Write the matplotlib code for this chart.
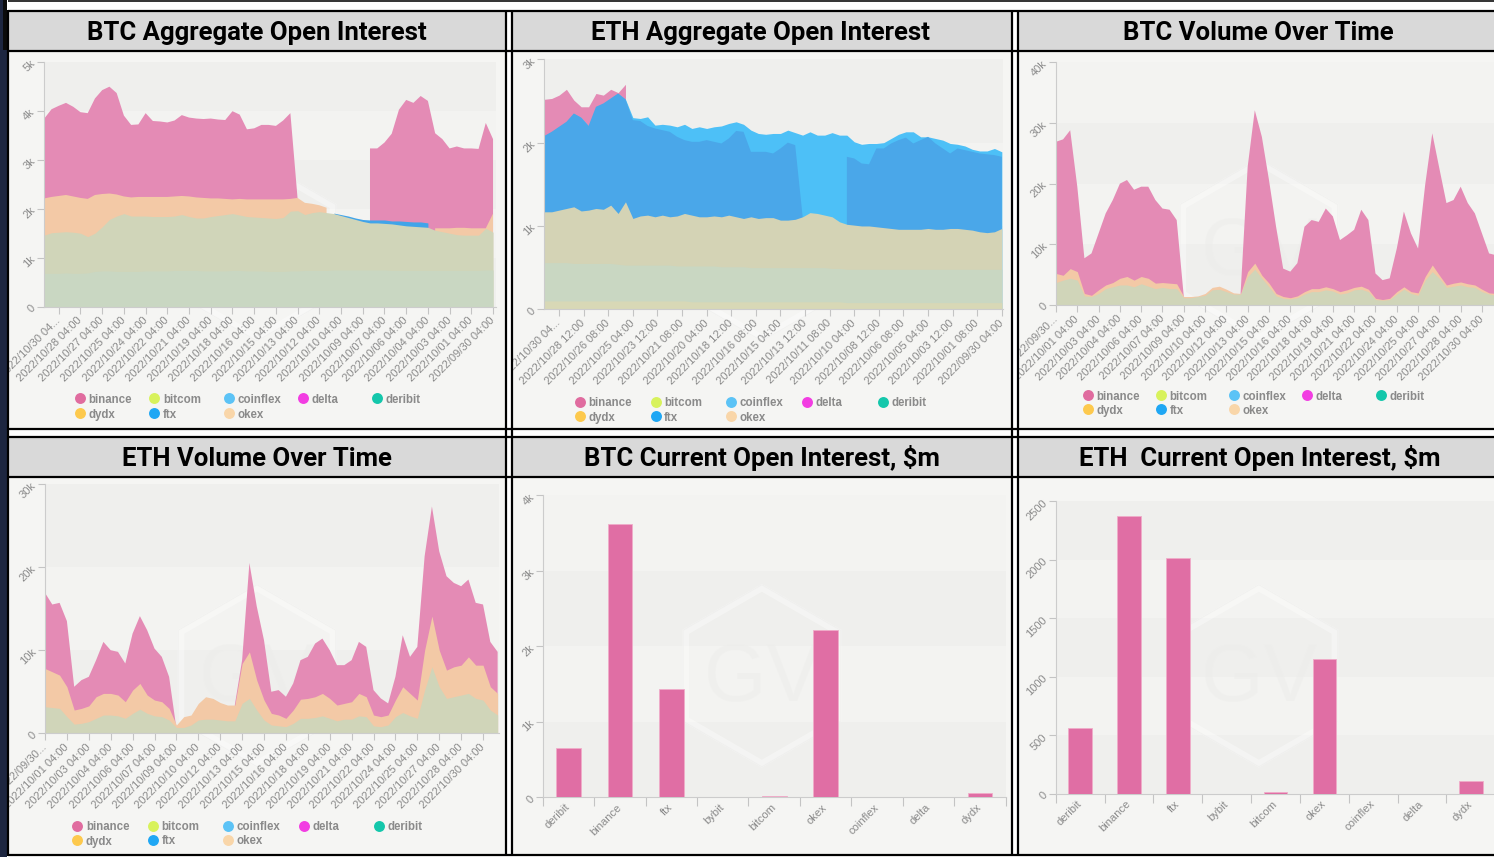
import numpy as np
import matplotlib
matplotlib.use('Agg')
import matplotlib.pyplot as plt
from matplotlib.patches import Rectangle, RegularPolygon
from matplotlib.transforms import Bbox, TransformedBbox

W, H = 1494, 857
nan = np.nan

# time axis: one point every 12 hours, 63 points
days = np.arange(63) * 0.5

# ---- BTC aggregate open interest (k), top edge of each coloured layer ----
btc_oi_binance = [3.84, 4.03, 4.10, 4.16, 4.08, 3.97, 3.95, 4.25, 4.42, 4.49,
                  4.36, 3.90, 3.71, 3.72, 3.95, 3.79, 3.78, 3.76, 3.80, 3.91,
                  3.86, 3.84, 3.83, 3.84, 3.82, 3.81, 3.99, 3.92, 3.62, 3.64,
                  3.71, 3.71, 3.69, 3.80, 3.95, 2.20, nan, nan, nan, nan,
                  nan, nan, nan, nan, nan, 3.23, 3.23, 3.35, 3.53, 4.02,
                  4.22, 4.16, 4.30, 4.20, 3.54, 3.42, 3.23, 3.27, 3.23, 3.23,
                  3.22, 3.75, 3.42]
btc_oi_okex = [2.21, 2.24, 2.26, 2.28, 2.25, 2.22, 2.20, 2.28, 2.30, 2.31,
               2.29, 2.25, 2.23, 2.24, 2.24, 2.24, 2.24, 2.24, 2.25, 2.26,
               2.25, 2.23, 2.22, 2.21, 2.21, 2.20, 2.19, 2.20, 2.19, 2.19,
               2.19, 2.19, 2.19, 2.19, 2.20, 2.22, 2.12, 2.10, 2.07, 2.02,
               nan, nan, nan, nan, nan, nan, nan, nan, nan, nan,
               nan, nan, nan, nan, 1.60, 1.60, 1.60, 1.61, 1.61, 1.60,
               1.60, 1.60, 1.90]
btc_oi_ftx = [nan, nan, nan, nan, nan, nan, nan, nan, nan, nan,
              nan, nan, nan, nan, nan, nan, nan, nan, nan, nan,
              nan, nan, nan, nan, nan, nan, nan, nan, nan, nan,
              nan, nan, nan, nan, nan, nan, nan, nan, nan, nan,
              1.91, 1.88, 1.85, 1.81, 1.78, 1.77, 1.77, 1.77, 1.75, 1.75,
              1.74, 1.73, 1.73, 1.71, nan, nan, nan, nan, nan, nan,
              nan, nan, nan]
btc_oi_deribit = [1.46, 1.51, 1.52, 1.53, 1.52, 1.50, 1.43, 1.50, 1.63, 1.78,
                  1.85, 1.90, 1.85, 1.85, 1.85, 1.84, 1.84, 1.84, 1.85, 1.88,
                  1.84, 1.81, 1.81, 1.84, 1.86, 1.88, 1.90, 1.87, 1.84, 1.83,
                  1.82, 1.81, 1.80, 1.82, 1.95, 1.96, 1.88, 1.92, 1.94, 1.92,
                  1.90, 1.86, 1.82, 1.78, 1.74, 1.71, 1.71, 1.70, 1.69, 1.67,
                  1.65, 1.64, 1.63, 1.62, 1.56, 1.53, 1.50, 1.47, 1.46, 1.46,
                  1.46, 1.60, 1.52]
btc_oi_base = [0.68, 0.68, 0.68, 0.69, 0.68, 0.68, 0.69, 0.72, 0.73, 0.73,
               0.72, 0.72, 0.72, 0.72, 0.73, 0.73, 0.73, 0.73, 0.74, 0.74,
               0.74, 0.74, 0.73, 0.73, 0.73, 0.73, 0.74, 0.74, 0.73, 0.73,
               0.73, 0.72, 0.72, 0.72, 0.73, 0.73, 0.74, 0.74, 0.74, 0.74,
               0.75, 0.75, 0.75, 0.75, 0.75, 0.75, 0.75, 0.75, 0.74, 0.74,
               0.74, 0.74, 0.74, 0.74, 0.74, 0.74, 0.74, 0.74, 0.74, 0.74,
               0.74, 0.75, 0.75]

# ---- ETH aggregate open interest (k) ----
eth_oi_binance = [2.52, 2.53, 2.57, 2.64, 2.51, 2.43, 2.43, 2.59, 2.57, 2.64,
                  2.60, 2.70, nan, nan, nan, nan, nan, nan, nan, nan,
                  nan, nan, nan, nan, nan, nan, nan, nan, nan, nan,
                  nan, nan, nan, nan, nan, nan, nan, nan, nan, nan,
                  nan, nan, nan, nan, nan, nan, nan, nan, nan, nan,
                  nan, nan, nan, nan, nan, nan, nan, nan, nan, nan,
                  nan, nan, nan]
eth_oi_coinflex = [2.08, 2.13, 2.19, 2.25, 2.35, 2.30, 2.20, 2.43, 2.47, 2.53,
                   2.59, 2.52, 2.30, 2.29, 2.31, 2.21, 2.22, 2.21, 2.19, 2.22,
                   2.17, 2.19, 2.17, 2.19, 2.20, 2.23, 2.25, 2.22, 2.15, 2.11,
                   2.10, 2.11, 2.11, 2.15, 2.12, 2.09, 2.13, 2.09, 2.09, 2.12,
                   2.09, 2.09, 2.01, 1.98, 1.99, 1.99, 2.00, 2.05, 2.10, 2.13,
                   2.13, 2.07, 2.07, 2.05, 2.03, 1.99, 1.98, 1.96, 1.92, 1.90,
                   1.90, 1.93, 1.89]
eth_oi_ftx = [2.08, 2.13, 2.19, 2.25, 2.35, 2.30, 2.20, 2.43, 2.47, 2.53,
              2.59, 2.52, 2.27, 2.26, 2.20, 2.17, 2.15, 2.13, 2.07, 2.03,
              2.01, 2.01, 2.03, 2.01, 1.99, 2.05, 2.14, 2.13, 1.89, 1.89,
              1.89, 1.87, 1.93, 2.00, 1.97, 1.12, nan, nan, nan, nan,
              nan, 1.83, 1.81, 1.75, 1.74, 1.93, 1.93, 1.99, 2.03, 2.06,
              1.99, 2.03, 2.07, 1.99, 1.93, 1.87, 1.93, 1.91, 1.89, 1.87,
              1.86, 1.85, 1.83]
eth_oi_okex = [1.17, 1.17, 1.19, 1.21, 1.23, 1.18, 1.19, 1.21, 1.20, 1.25,
               1.15, 1.29, 1.09, 1.12, 1.13, 1.11, 1.13, 1.11, 1.12, 1.15,
               1.13, 1.11, 1.11, 1.12, 1.11, 1.13, 1.11, 1.09, 1.11, 1.09,
               1.10, 1.10, 1.07, 1.07, 1.08, 1.11, 1.16, 1.15, 1.13, 1.11,
               1.05, 1.02, 1.01, 1.00, 1.00, 0.99, 0.98, 0.97, 0.96, 0.96,
               0.96, 0.96, 0.97, 0.96, 0.96, 0.97, 0.97, 0.96, 0.95, 0.93,
               0.92, 0.93, 0.97]
eth_oi_deribit = [0.56, 0.56, 0.56, 0.56, 0.55, 0.55, 0.55, 0.55, 0.55, 0.55,
                  0.54, 0.53, 0.53, 0.53, 0.53, 0.53, 0.53, 0.53, 0.52, 0.52,
                  0.52, 0.52, 0.52, 0.52, 0.51, 0.51, 0.51, 0.51, 0.50, 0.50,
                  0.50, 0.50, 0.50, 0.50, 0.50, 0.50, 0.50, 0.50, 0.50, 0.49,
                  0.49, 0.48, 0.48, 0.48, 0.48, 0.48, 0.48, 0.48, 0.48, 0.48,
                  0.48, 0.48, 0.48, 0.48, 0.48, 0.48, 0.48, 0.48, 0.48, 0.48,
                  0.48, 0.48, 0.48]
eth_oi_dydx = [0.10, 0.10, 0.10, 0.10, 0.10, 0.10, 0.10, 0.10, 0.10, 0.10,
               0.10, 0.10, 0.10, 0.10, 0.10, 0.10, 0.10, 0.10, 0.10, 0.10,
               0.09, 0.09, 0.09, 0.09, 0.09, 0.09, 0.09, 0.09, 0.09, 0.09,
               0.09, 0.09, 0.09, 0.09, 0.09, 0.09, 0.09, 0.09, 0.09, 0.09,
               0.09, 0.08, 0.08, 0.08, 0.08, 0.08, 0.08, 0.08, 0.08, 0.08,
               0.08, 0.08, 0.08, 0.08, 0.08, 0.08, 0.08, 0.08, 0.08, 0.08,
               0.08, 0.08, 0.08]

# ---- BTC volume (k) ----
btc_vol_binance = [26.9, 27.3, 28.8, 19.5, 7.7, 8.5, 11.8, 15.1, 17.3, 20.0,
                   20.6, 19.0, 19.5, 19.5, 17.3, 15.9, 15.7, 14.0, 1.4, nan,
                   nan, nan, nan, nan, nan, nan, 1.9, 22.8, 32.1, 27.7,
                   20.6, 12.9, 6.0, 5.5, 6.9, 12.9, 14.0, 13.7, 15.9, 14.6,
                   10.7, 11.5, 12.4, 15.7, 14.0, 5.2, 4.1, 4.4, 9.3, 15.4,
                   11.8, 9.3, 19.8, 28.3, 22.5, 16.8, 17.3, 19.5, 16.8, 15.1,
                   11.8, 8.5, 8.2]
btc_vol_okex = [5.2, 4.9, 6.0, 5.5, 1.9, 1.6, 2.5, 3.3, 3.7, 4.4,
                4.7, 4.1, 4.7, 4.4, 3.6, 3.7, 3.6, 3.5, 1.4, 1.4,
                1.5, 1.9, 2.9, 3.1, 2.6, 2.0, 1.9, 5.5, 6.9, 4.9,
                3.6, 1.9, 1.4, 1.2, 1.5, 2.2, 2.7, 2.7, 3.0, 2.7,
                2.2, 2.5, 2.9, 3.1, 2.6, 1.1, 0.9, 1.1, 2.2, 3.0,
                2.2, 2.0, 4.7, 6.6, 4.9, 3.3, 3.6, 3.8, 3.5, 3.3,
                2.6, 2.0, 1.9]
btc_vol_deribit = [3.7, 4.1, 4.4, 4.1, 1.5, 1.4, 1.9, 2.7, 3.0, 3.3,
                   3.3, 3.0, 3.5, 3.1, 2.7, 2.9, 2.7, 2.7, 1.2, 1.2,
                   1.4, 1.6, 2.5, 2.6, 2.2, 1.8, 1.8, 4.7, 5.9, 4.4,
                   3.0, 1.5, 1.1, 1.0, 1.2, 1.8, 2.2, 2.2, 2.5, 2.3,
                   1.8, 2.0, 2.5, 2.6, 2.2, 0.9, 0.8, 0.9, 1.8, 2.6,
                   1.9, 1.6, 4.1, 5.5, 4.4, 2.9, 3.1, 3.3, 3.0, 2.9,
                   2.2, 1.8, 1.6]

# ---- ETH volume (k) ----
eth_vol_binance = [16.9, 15.5, 15.7, 13.5, 5.6, 6.4, 6.8, 8.8, 11.0, 10.0,
                   9.8, 8.4, 12.0, 14.1, 12.4, 10.2, 9.2, 6.8, 0.6, nan,
                   nan, nan, nan, nan, nan, nan, 3.4, 8.8, 20.5, 15.3,
                   11.2, 5.0, 5.2, 4.4, 6.0, 8.8, 9.2, 10.8, 11.4, 10.0,
                   8.2, 8.2, 8.8, 11.0, 10.4, 5.2, 4.2, 3.6, 6.8, 11.8,
                   9.2, 10.4, 21.3, 27.3, 21.9, 18.9, 18.1, 17.7, 18.5, 15.7,
                   15.5, 11.0, 9.8]
eth_vol_okex = [7.8, 7.4, 7.0, 5.6, 2.8, 3.0, 3.3, 4.4, 4.8, 4.8,
                4.6, 3.8, 5.2, 6.0, 4.6, 4.0, 3.8, 3.0, 1.0, 2.0,
                2.2, 3.6, 4.4, 4.2, 3.7, 3.4, 3.4, 8.4, 9.8, 6.4,
                4.0, 2.4, 2.2, 1.8, 2.8, 4.1, 4.2, 4.4, 4.8, 4.2,
                3.4, 3.6, 3.8, 4.8, 4.4, 2.2, 2.0, 2.2, 4.0, 5.6,
                4.8, 4.0, 10.0, 14.1, 10.0, 7.6, 8.0, 8.2, 9.2, 8.2,
                8.2, 5.6, 4.8]
eth_vol_deribit = [3.2, 3.1, 3.0, 2.0, 1.1, 1.2, 1.4, 1.8, 2.2, 2.2,
                   2.1, 1.8, 2.4, 2.9, 2.4, 2.1, 2.0, 1.6, 0.7, 0.7,
                   1.0, 1.6, 1.7, 1.7, 1.6, 1.5, 1.5, 3.6, 4.2, 2.8,
                   1.6, 1.0, 0.9, 0.8, 1.2, 1.8, 1.8, 1.9, 2.1, 1.8,
                   1.5, 1.7, 1.7, 2.1, 2.0, 0.9, 0.8, 1.0, 2.0, 2.5,
                   2.1, 1.8, 5.2, 8.0, 5.6, 4.2, 4.4, 4.6, 4.8, 4.2,
                   4.0, 2.8, 2.2]

# ---- current open interest, $m ----
exchanges = ['deribit', 'binance', 'ftx', 'bybit', 'bitcom', 'okex', 'coinflex', 'delta', 'dydx']
btc_current_oi = [650, 3620, 1440, 0, 12, 2210, 0, 8, 62]
eth_current_oi = [567, 2372, 2019, 0, 14, 1150, 0, 0, 111]

# ---- tick labels ----
btc_oi_dates = ['2022/10/30 04...', '2022/10/28 04:00', '2022/10/27 04:00', '2022/10/25 04:00',
                '2022/10/24 04:00', '2022/10/22 04:00', '2022/10/21 04:00', '2022/10/19 04:00',
                '2022/10/18 04:00', '2022/10/16 04:00', '2022/10/15 04:00', '2022/10/13 04:00',
                '2022/10/12 04:00', '2022/10/10 04:00', '2022/10/09 04:00', '2022/10/07 04:00',
                '2022/10/06 04:00', '2022/10/04 04:00', '2022/10/03 04:00', '2022/10/01 04:00',
                '2022/09/30 04:00']
eth_oi_dates = ['2022/10/30 04...', '2022/10/28 12:00', '2022/10/26 08:00', '2022/10/25 04:00',
                '2022/10/23 12:00', '2022/10/21 08:00', '2022/10/20 04:00', '2022/10/18 12:00',
                '2022/10/16 08:00', '2022/10/15 04:00', '2022/10/13 12:00', '2022/10/11 08:00',
                '2022/10/10 04:00', '2022/10/08 12:00', '2022/10/06 08:00', '2022/10/05 04:00',
                '2022/10/03 12:00', '2022/10/01 08:00', '2022/09/30 04:00']
vol_dates = ['2022/09/30...', '2022/10/01 04:00', '2022/10/03 04:00', '2022/10/04 04:00',
             '2022/10/06 04:00', '2022/10/07 04:00', '2022/10/09 04:00', '2022/10/10 04:00',
             '2022/10/12 04:00', '2022/10/13 04:00', '2022/10/15 04:00', '2022/10/16 04:00',
             '2022/10/18 04:00', '2022/10/19 04:00', '2022/10/21 04:00', '2022/10/22 04:00',
             '2022/10/24 04:00', '2022/10/25 04:00', '2022/10/27 04:00', '2022/10/28 04:00',
             '2022/10/30 04:00']

legend_names = ['binance', 'bitcom', 'coinflex', 'delta', 'deribit', 'dydx', 'ftx', 'okex']
legend_colors = ['#e06c9f', '#d8f25c', '#5cc3f6', '#f23de2', '#14c7ab', '#fdc94d', '#1fa7f4', '#f9d6a9']
legend_slots = [(0, 0), (1, 0), (2, 0), (3, 0), (4, 0), (0, 1), (1, 1), (2, 1)]

PINK = '#e48bb5'
PEACH = '#f3c9a6'
SAGE = '#d0d5b9'
GREEN = '#c9d7c2'
FTX = '#41a4e9'
LIGHTBLUE = '#4dc0f7'
DARKBLUE = '#4aa7e9'
BEIGE = '#d4d3b5'
YELLOWISH = '#d8d8b6'
BAR = '#e06ea4'
TICKTXT = '#8a8a8a'

fig = plt.figure(figsize=(W / 100, H / 100), dpi=100)
fig.patch.set_facecolor('white')
bg = fig.add_axes([0, 0, 1, 1], zorder=-10)
bg.set_xlim(0, W)
bg.set_ylim(H, 0)
bg.axis('off')

cols = [(9, 505), (512.7, 1011), (1018.7, 1510)]
rows = [(11, 51, 429), (437, 476.5, 855)]
for (tt, tb, pb) in rows:
    for (x0, x1) in cols:
        bg.add_patch(Rectangle((x0, tb), x1 - x0, pb - tb, fc='#f5f5f3', lw=0))
        bg.add_patch(Rectangle((x0, tt), x1 - x0, tb - tt, fc='#d9d9d9', lw=0))
bg.hlines([11, 51, 429, 437, 476.5, 855], 8, W, color='black', lw=1.6)
bg.vlines([8, 506, 512, 1012, 1018], 10, 856, color='black', lw=1.6)
bg.hlines(0.8, 8, W, color='#222222', lw=1.3)
bg.add_patch(Rectangle((0, 0), 7.3, H, fc='#1d2640', lw=0))
bg.add_patch(Rectangle((3, 0), 4.3, 50, fc='#0b0b0b', lw=0))


def body(r, c):
    return (cols[c][0], rows[r][1], cols[c][1], rows[r][2])


titles = [('BTC Aggregate Open Interest', 256.5, 40),
          ('ETH Aggregate Open Interest', 760.5, 40),
          ('BTC Volume Over Time', 1258, 40),
          ('ETH Volume Over Time', 256.5, 466),
          ('BTC Current Open Interest, $m', 762, 466),
          ('ETH  Current Open Interest, $m', 1259.5, 466)]
title_artists = []
for txt, cx, by in titles:
    title_artists.append(bg.text(cx, by, txt, ha='center', va='baseline',
                                 fontfamily='Roboto', fontweight='bold', fontsize=18, color='black'))
fig.canvas.draw()
fs = 18 * 341 / title_artists[0].get_window_extent().width
for t in title_artists:
    t.set_fontsize(fs)


def px_axes(l, t, r, b):
    ax = fig.add_axes([l / W, 1 - b / H, (r - l) / W, (b - t) / H])
    ax.set_facecolor('#f3f3f1')
    for s in ('top', 'right'):
        ax.spines[s].set_visible(False)
    for s in ('left', 'bottom'):
        ax.spines[s].set_color('#cccccc')
        ax.spines[s].set_linewidth(0.8)
    return ax


def watermark(ax, box):
    # faint embossed "GV" hexagon behind the data
    cx = (box[0] + min(box[2], 1499)) / 2
    cy = (box[1] + box[3]) / 2 + 10
    ax.add_artist(RegularPolygon((cx, cy), 6, radius=88, transform=bg.transData, fc='none',
                                 ec='white', lw=5, alpha=0.35, zorder=1, clip_on=False))
    ax.add_artist(RegularPolygon((cx, cy), 6, radius=91, transform=bg.transData, fc='none',
                                 ec='#e8e8e6', lw=0.7, alpha=0.4, zorder=1, clip_on=False))
    ax.text(cx, cy + 4, 'GV', transform=bg.transData, ha='center', va='center',
            fontsize=58, color='#ededeb', alpha=0.5, zorder=1, clip_on=False,
            fontfamily='Liberation Sans')


def finish_ticks(ax, box, xpad, xlen):
    ax.tick_params(axis='both', which='both', color='#c4c4c4', width=0.8,
                   labelcolor=TICKTXT, labelsize=8)
    ax.tick_params(axis='y', length=4.8, pad=2.5)
    ax.tick_params(axis='x', which='major', length=xlen, pad=xpad)
    x0, y0, x1, y1 = box
    clip = TransformedBbox(Bbox.from_extents(x0 / W, 1 - y1 / H, x1 / W, 1 - y0 / H),
                           fig.transFigure)
    for t in ax.get_xticklabels() + ax.get_yticklabels():
        t.set(rotation=45, ha='right', va='center', rotation_mode='anchor',
              fontfamily='Liberation Sans')
        t.set_clip_box(clip)
        t.set_clip_on(True)


def area_chart(rect, box, layers, xlim, yticks, ylabels, xticks, xlabels):
    ax = px_axes(*rect)
    for i in range(0, len(yticks) - 1, 2):
        ax.axhspan(yticks[i], yticks[i + 1], color='#efefed', lw=0, zorder=0)
    watermark(ax, box)
    for vals, color in layers:
        ax.fill_between(days, 0, vals, color=color, lw=0, zorder=2)
    ax.set_xlim(*xlim)
    ax.set_ylim(yticks[0], yticks[-1])
    ax.set_yticks(yticks, ylabels)
    ax.set_xticks(xticks, xlabels)
    finish_ticks(ax, box, 4, 4.8)
    return ax


def bar_chart(rect, box, vals, yticks, ylabels):
    ax = px_axes(*rect)
    for i in range(0, len(yticks) - 1, 2):
        ax.axhspan(yticks[i], yticks[i + 1], color='#efefed', lw=0, zorder=0)
    watermark(ax, box)
    x = np.arange(len(exchanges))
    ax.bar(x, vals, width=0.48, color=BAR, edgecolor='#f0acc9', lw=0.6, zorder=3)
    ax.set_xlim(-0.5, len(exchanges) - 0.5)
    ax.set_ylim(yticks[0], yticks[-1])
    ax.set_yticks(yticks, ylabels)
    ax.set_xticks(x, exchanges)
    ax.set_xticks(np.arange(len(exchanges) + 1) - 0.5, minor=True)
    finish_ticks(ax, box, 6, 0)
    ax.tick_params(axis='x', which='minor', length=6.5)
    return ax


area_chart((43.5, 61.7, 495.5, 306.7), body(0, 0),
           [(btc_oi_binance, PINK), (btc_oi_okex, PEACH), (btc_oi_ftx, FTX),
            (btc_oi_deribit, SAGE), (btc_oi_base, GREEN)],
           (-0.055, 31.17), [0, 1, 2, 3, 4, 5], ['0', '1k', '2k', '3k', '4k', '5k'],
           [1 + 1.5 * i for i in range(21)], btc_oi_dates)

area_chart((543.5, 59.3, 1003, 309.3), body(0, 1),
           [(eth_oi_binance, PINK), (eth_oi_coinflex, LIGHTBLUE), (eth_oi_ftx, DARKBLUE),
            (eth_oi_okex, BEIGE), (eth_oi_deribit, GREEN), (eth_oi_dydx, YELLOWISH)],
           (-0.054, 31.08), [0, 1, 2, 3], ['0', '1k', '2k', '3k'],
           [1 + 5 / 3 * i for i in range(19)], eth_oi_dates)

area_chart((1055.5, 62.3, 1500, 305), body(0, 2),
           [(btc_vol_binance, PINK), (btc_vol_okex, PEACH), (btc_vol_deribit, SAGE)],
           (-0.035, 31.27), [0, 10, 20, 30, 40], ['0', '10k', '20k', '30k', '40k'],
           [1.5 * i for i in range(21)], vol_dates)

area_chart((44.5, 484, 498.5, 733.3), body(1, 0),
           [(eth_vol_binance, PINK), (eth_vol_okex, PEACH), (eth_vol_deribit, SAGE)],
           (-0.034, 31.06), [0, 10, 20, 30], ['0', '10k', '20k', '30k'],
           [1.5 * i for i in range(21)], vol_dates)

bar_chart((542.7, 495.3, 1005.7, 797.3), body(1, 1), btc_current_oi,
          [0, 1000, 2000, 3000, 4000], ['0', '1k', '2k', '3k', '4k'])

bar_chart((1055.7, 501.3, 1495.2, 794), body(1, 2), eth_current_oi,
          [0, 500, 1000, 1500, 2000, 2500], ['0', '500', '1000', '1500', '2000', '2500'])


def legend(x0, dx, ya, yb):
    for name, color, (c, r) in zip(legend_names, legend_colors, legend_slots):
        x = x0 + c * dx
        y = (ya, yb)[r]
        bg.scatter([x], [y], s=62, color=color, lw=0, zorder=5)
        bg.text(x + 8.5, y, name, fontsize=8.3, fontweight='bold', color='#8a8a8a',
                ha='left', va='center_baseline', fontfamily='Liberation Sans', zorder=5)


legend(80, 74.3, 398.3, 413.3)
legend(580, 75.7, 401.7, 416.3)
legend(1087.7, 73.25, 395, 409)
legend(77.3, 75.5, 826, 840)

fig.savefig('out.png', dpi=100, facecolor='white')
